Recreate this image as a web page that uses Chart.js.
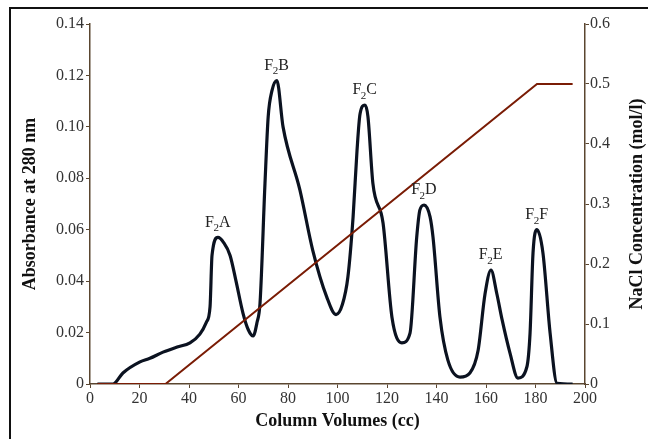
<!DOCTYPE html>
<html>
<head>
<meta charset="utf-8">
<script src="https://cdn.jsdelivr.net/npm/chart.js@4.4.1/dist/chart.umd.min.js"></script>
<style>
  html, body { margin: 0; padding: 0; background: #fff; }
  #wrap { position: relative; width: 648px; height: 439px; }
  #frame { position: absolute; left: 9px; top: 7px; right: -10px; bottom: -10px; border-left: 2px solid #111; border-top: 2px solid #111; }
  canvas { position: absolute; left: 0; top: 0; }
</style>
</head>
<body>
<div id="wrap">
  <div id="frame"></div>
  <canvas id="grafico" width="648" height="439"></canvas>
</div>
<script>
// absorbance profile (column volume in cc, absorbance at 280 nm)
const volumen = [3, 9.3, 13.3, 20.2, 24.2, 29.5, 35.2, 40.4, 44.4, 47, 48.5, 49.3, 51.7, 54, 56.6, 59, 61.8, 64, 65.9, 67.5, 68.7, 70.7, 72, 73.5, 75.5, 78, 84.8, 90, 95.6, 99.4, 102, 104.2, 106.3, 107.9, 109.1, 111.1, 112.3, 114.3, 118.4, 122, 126, 129.3, 132, 133.3, 135, 137.4, 138.6, 141.4, 144.6, 149.5, 153.5, 156.8, 159.6, 162, 164.4, 166.5, 169.7, 172.9, 176.5, 177.8, 179, 180.6, 183, 185.9, 188.7, 195];
const absorbancia = [0, 0, 0.0043, 0.0086, 0.010, 0.0124, 0.0144, 0.016, 0.0194, 0.024, 0.030, 0.050, 0.057, 0.055, 0.050, 0.040, 0.0276, 0.021, 0.0187, 0.024, 0.0315, 0.078, 0.104, 0.114, 0.118, 0.100, 0.0755, 0.052, 0.034, 0.027, 0.031, 0.0416, 0.065, 0.091, 0.105, 0.1085, 0.104, 0.078, 0.0626, 0.026, 0.016, 0.0198, 0.057, 0.0677, 0.0696, 0.065, 0.057, 0.026, 0.0093, 0.0027, 0.0043, 0.013, 0.035, 0.0443, 0.035, 0.025, 0.012, 0.0023, 0.0066, 0.0198, 0.051, 0.060, 0.051, 0.0198, 0.0003, 0];

// NaCl gradient
const volumenSal = [3, 30.5, 180.6, 195];
const concentracionSal = [0, 0, 0.5, 0.5];

// peak labels
const picos = ['A', 'B', 'C', 'D', 'E', 'F'];
const picosX = [51.7, 75.5, 111.1, 135, 162, 180.6];
const picosY = [0.057, 0.118, 0.1085, 0.0696, 0.0443, 0.060];

const ticksX = [0, 20, 40, 60, 80, 100, 120, 140, 160, 180, 200];
const ticksIzq = [0, 0.02, 0.04, 0.06, 0.08, 0.10, 0.12, 0.14];
const ticksDer = [0, 0.1, 0.2, 0.3, 0.4, 0.5, 0.6];

const colorEje = '#5a4630';
const fuente = "'Liberation Serif', 'DejaVu Serif', serif";

const textos = {
    id: 'textos',
    afterDatasetsDraw(chart) {
        const c = chart.ctx;
        const x = chart.scales.x, y = chart.scales.y;
        const area = chart.chartArea;
        c.save();

        // etiquetas de los picos
        c.fillStyle = '#222';
        c.textBaseline = 'middle';
        c.textAlign = 'left';
        picos.forEach((letra, i) => {
            const px = x.getPixelForValue(picosX[i]);
            const py = y.getPixelForValue(picosY[i]) - 15;
            c.font = '16px ' + fuente;
            const wF = c.measureText('F').width;
            const wL = c.measureText(letra).width;
            c.font = '11px ' + fuente;
            const w2 = c.measureText('2').width;
            const sx = px - (wF + w2 + wL) / 2;
            c.font = '16px ' + fuente;
            c.fillText('F', sx, py);
            c.font = '11px ' + fuente;
            c.fillText('2', sx + wF - 0.5, py + 6);
            c.font = '16px ' + fuente;
            c.fillText(letra, sx + wF + w2 - 0.5, py);
        });

        // titulos de los ejes
        c.fillStyle = '#111';
        c.font = 'bold 18px ' + fuente;
        c.textAlign = 'center';
        c.fillText('Column Volumes (cc)', (area.left + area.right) / 2, 421);
        const medio = (area.top + area.bottom) / 2;
        c.translate(30, medio);
        c.rotate(-Math.PI / 2);
        c.fillText('Absorbance at 280 nm', 0, 0);
        c.rotate(Math.PI / 2);
        c.translate(637 - 30, 0);
        c.rotate(-Math.PI / 2);
        c.fillText('NaCl Concentration (mol/l)', 0, 0);
        c.restore();
    }
};

new Chart(document.getElementById('grafico'), {
    type: 'line',
    data: {
        datasets: [
            {
                label: 'NaCl',
                data: volumenSal.map((v, i) => ({ x: v, y: concentracionSal[i] })),
                yAxisID: 'y2',
                borderColor: '#7a1c05',
                borderWidth: 2,
                pointRadius: 0,
                tension: 0
            },
            {
                label: 'Absorbancia',
                data: volumen.map((v, i) => ({ x: v, y: absorbancia[i] })),
                yAxisID: 'y',
                borderColor: '#0b1220',
                borderWidth: 3.2,
                pointRadius: 0,
                cubicInterpolationMode: 'monotone'
            }
        ]
    },
    options: {
        responsive: false,
        animation: false,
        layout: { padding: { top: 24, left: 0, right: 0, bottom: 0 } },
        plugins: { legend: { display: false }, tooltip: { enabled: false } },
        scales: {
            x: {
                type: 'linear',
                min: 0, max: 200,
                afterBuildTicks: s => { s.ticks = ticksX.map(v => ({ value: v })); },
                afterFit: s => { s.height = 55; },
                border: { color: colorEje, width: 1.5 },
                grid: { drawOnChartArea: false, color: colorEje, tickLength: 4 },
                ticks: { color: '#333', font: { family: fuente, size: 16 }, padding: 1, maxRotation: 0 }
            },
            y: {
                position: 'left',
                min: 0, max: 0.14,
                afterBuildTicks: s => { s.ticks = ticksIzq.map(v => ({ value: v })); },
                afterFit: s => { s.width = 90; },
                border: { color: colorEje, width: 1.5 },
                grid: { drawOnChartArea: false, color: colorEje, tickLength: 4 },
                ticks: {
                    color: '#333', font: { family: fuente, size: 16 }, padding: 2,
                    callback: v => v === 0 ? '0' : v.toFixed(2)
                }
            },
            y2: {
                position: 'right',
                min: 0, max: 0.6,
                afterBuildTicks: s => { s.ticks = ticksDer.map(v => ({ value: v })); },
                afterFit: s => { s.width = 63; },
                border: { color: colorEje, width: 1.5 },
                grid: { drawOnChartArea: false, color: colorEje, tickLength: 4 },
                ticks: {
                    color: '#333', font: { family: fuente, size: 16 }, padding: 1,
                    callback: v => v === 0 ? '0' : v.toFixed(1)
                }
            }
        }
    },
    plugins: [textos]
});
</script>
</body>
</html>
